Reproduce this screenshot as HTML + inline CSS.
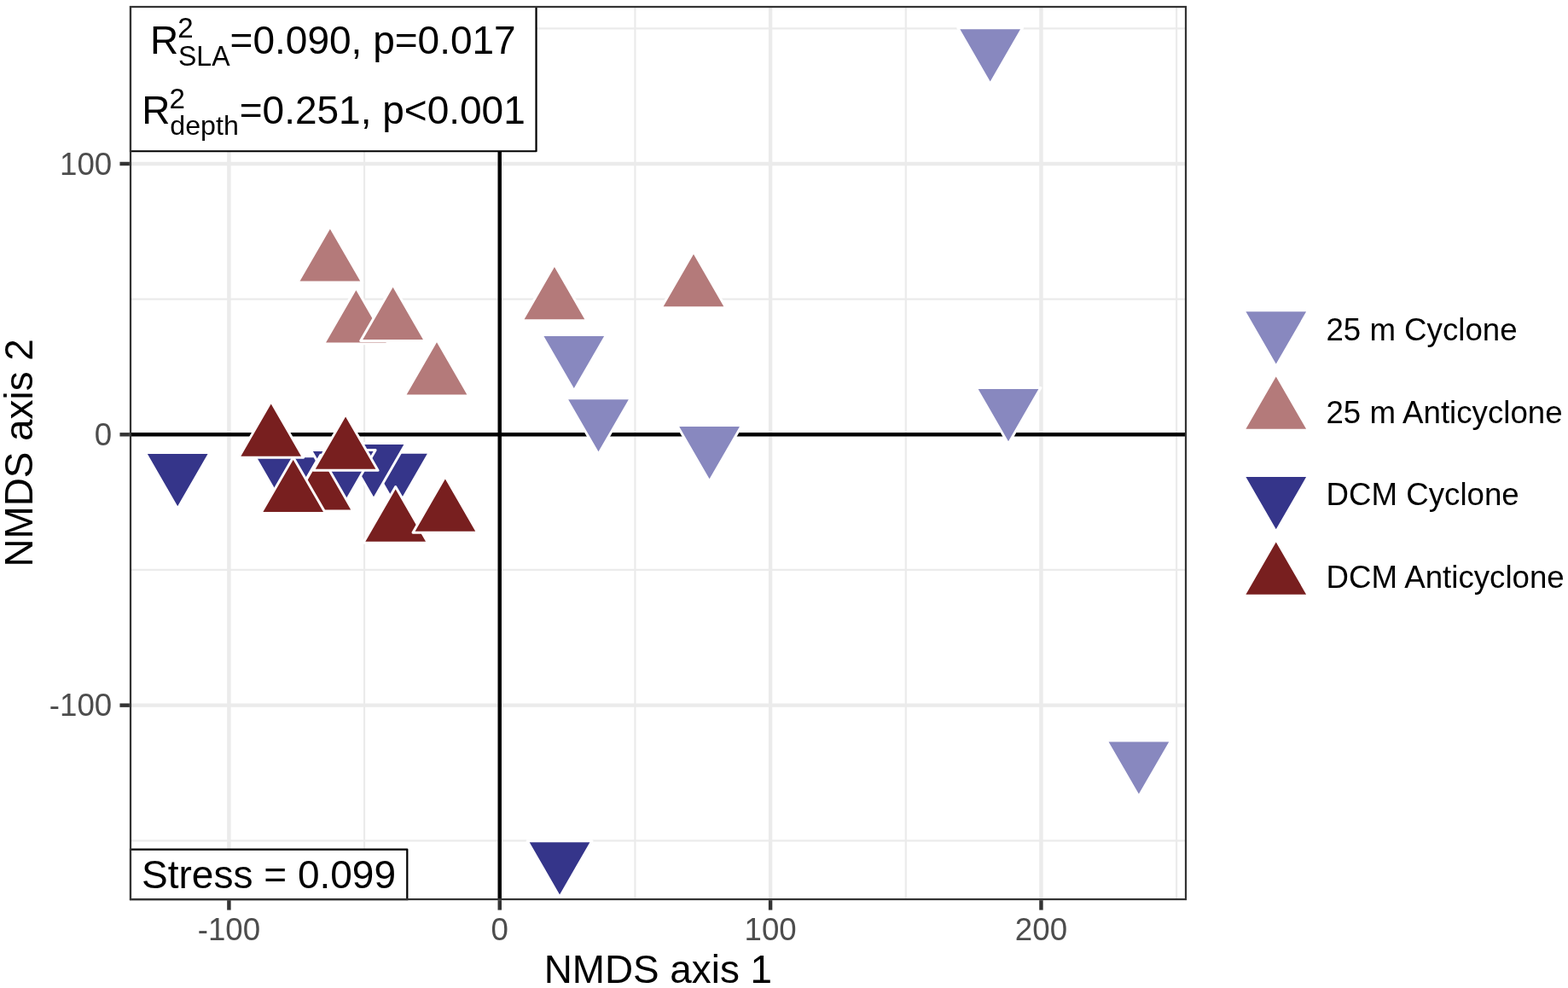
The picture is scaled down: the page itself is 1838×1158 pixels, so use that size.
<!DOCTYPE html>
<html lang="en"><head><meta charset="utf-8"><title>NMDS ordination</title>
<style>html,body{margin:0;padding:0;background:#fff;}body{width:1838px;height:1158px;overflow:hidden;}svg{display:block;}text{font-family:"Liberation Sans",sans-serif;}</style></head><body>
<svg width="1838" height="1158" viewBox="0 0 1838 1158" role="img" aria-label="NMDS ordination scatter plot">
<rect x="0" y="0" width="1838" height="1158" fill="#ffffff"/>
<defs><clipPath id="pc"><rect x="151.90" y="6.90" width="1239.20" height="1048.25"/></clipPath></defs>
<g clip-path="url(#pc)">
<g stroke="#EBEBEB" stroke-width="2.223" fill="none">
<line x1="427.07" y1="6.90" x2="427.07" y2="1055.15"/>
<line x1="744.42" y1="6.90" x2="744.42" y2="1055.15"/>
<line x1="1061.78" y1="6.90" x2="1061.78" y2="1055.15"/>
<line x1="1379.12" y1="6.90" x2="1379.12" y2="1055.15"/>
<line x1="151.90" y1="33.27" x2="1391.10" y2="33.27"/>
<line x1="151.90" y1="350.62" x2="1391.10" y2="350.62"/>
<line x1="151.90" y1="667.98" x2="1391.10" y2="667.98"/>
<line x1="151.90" y1="985.33" x2="1391.10" y2="985.33"/>
</g>
<g stroke="#EBEBEB" stroke-width="4.446" fill="none">
<line x1="268.40" y1="6.90" x2="268.40" y2="1055.15"/>
<line x1="585.75" y1="6.90" x2="585.75" y2="1055.15"/>
<line x1="903.10" y1="6.90" x2="903.10" y2="1055.15"/>
<line x1="1220.45" y1="6.90" x2="1220.45" y2="1055.15"/>
<line x1="151.90" y1="191.95" x2="1391.10" y2="191.95"/>
<line x1="151.90" y1="509.30" x2="1391.10" y2="509.30"/>
<line x1="151.90" y1="826.65" x2="1391.10" y2="826.65"/>
</g>
<g stroke="#000000" stroke-width="4.446" fill="none">
<line x1="151.90" y1="509.30" x2="1391.10" y2="509.30"/>
<line x1="585.75" y1="6.90" x2="585.75" y2="1055.15"/>
</g>
<g stroke="#ffffff" stroke-width="2.95" stroke-linejoin="round">
<polygon points="465.50,595.98 503.41,530.31 427.59,530.31" fill="#35358A"/>
<polygon points="438.00,585.18 475.91,519.51 400.09,519.51" fill="#35358A"/>
<polygon points="336.50,600.38 374.41,534.71 298.59,534.71" fill="#35358A"/>
<polygon points="402.25,593.18 440.16,527.51 364.34,527.51" fill="#35358A"/>
<polygon points="208.20,596.28 246.11,530.61 170.29,530.61" fill="#35358A"/>
<polygon points="656.05,1051.38 693.96,985.71 618.14,985.71" fill="#35358A"/>
<polygon points="1160.70,98.48 1198.61,32.81 1122.79,32.81" fill="#8888BF"/>
<polygon points="672.80,458.08 710.71,392.41 634.89,392.41" fill="#8888BF"/>
<polygon points="701.50,532.33 739.41,466.66 663.59,466.66" fill="#8888BF"/>
<polygon points="831.60,564.28 869.51,498.61 793.69,498.61" fill="#8888BF"/>
<polygon points="1182.00,520.18 1219.91,454.51 1144.09,454.51" fill="#8888BF"/>
<polygon points="1334.90,933.58 1372.81,867.91 1296.99,867.91" fill="#8888BF"/>
<polygon points="386.90,265.42 424.81,331.09 348.99,331.09" fill="#B47A7A"/>
<polygon points="417.40,337.22 455.31,402.89 379.49,402.89" fill="#B47A7A"/>
<polygon points="460.60,333.82 498.51,399.49 422.69,399.49" fill="#B47A7A"/>
<polygon points="512.00,398.32 549.91,463.99 474.09,463.99" fill="#B47A7A"/>
<polygon points="649.95,310.02 687.86,375.69 612.04,375.69" fill="#B47A7A"/>
<polygon points="813.00,295.02 850.91,360.69 775.09,360.69" fill="#B47A7A"/>
<polygon points="375.85,533.32 413.76,598.99 337.94,598.99" fill="#781F1F"/>
<polygon points="343.70,535.92 381.61,601.59 305.79,601.59" fill="#781F1F"/>
<polygon points="317.70,470.52 355.61,536.19 279.79,536.19" fill="#781F1F"/>
<polygon points="405.10,485.62 443.01,551.29 367.19,551.29" fill="#781F1F"/>
<polygon points="463.70,570.52 501.61,636.19 425.79,636.19" fill="#781F1F"/>
<polygon points="521.90,558.52 559.81,624.19 483.99,624.19" fill="#781F1F"/>
</g>
<rect x="151.90" y="6.90" width="476.65" height="170.35" fill="#ffffff" stroke="#000000" stroke-width="2.223" stroke-linejoin="round"/>
<g font-size="46px" fill="#000000">
<text y="62.85"><tspan x="176.1">R</tspan><tspan x="208.25" y="43.75" font-size="33.6px" lengthAdjust="spacingAndGlyphs" textLength="18.41">2</tspan><tspan x="209" y="76.9" font-size="33.6px" lengthAdjust="spacingAndGlyphs" textLength="60.52">SLA</tspan><tspan x="269.6" y="62.85">=0.090, p=0.017</tspan></text>
<text y="144.85"><tspan x="166.15">R</tspan><tspan x="198.55" y="126.95" font-size="33.6px" lengthAdjust="spacingAndGlyphs" textLength="18.41">2</tspan><tspan x="199.3" y="157.6" font-size="32.2px">depth</tspan><tspan x="280.7" y="144.85">=0.251, p&lt;0.001</tspan></text>
</g>
<rect x="151.90" y="995.60" width="325.40" height="59.55" fill="#ffffff" stroke="#000000" stroke-width="2.223" stroke-linejoin="round"/>
<text x="166.1" y="1040.8" font-size="46px" fill="#000000">Stress = 0.099</text>
</g>
<rect x="153.01" y="8.01" width="1236.98" height="1046.03" fill="none" stroke="#333333" stroke-width="2.223"/>
<g stroke="#333333" stroke-width="4.446" fill="none">
<line x1="268.40" y1="1055.15" x2="268.40" y2="1066.61"/>
<line x1="585.75" y1="1055.15" x2="585.75" y2="1066.61"/>
<line x1="903.10" y1="1055.15" x2="903.10" y2="1066.61"/>
<line x1="1220.45" y1="1055.15" x2="1220.45" y2="1066.61"/>
<line x1="140.44" y1="191.95" x2="151.90" y2="191.95"/>
<line x1="140.44" y1="509.30" x2="151.90" y2="509.30"/>
<line x1="140.44" y1="826.65" x2="151.90" y2="826.65"/>
</g>
<g font-size="36.67px" fill="#4D4D4D">
<text x="268.40" y="1101.7" text-anchor="middle">-100</text>
<text x="585.75" y="1101.7" text-anchor="middle">0</text>
<text x="903.10" y="1101.7" text-anchor="middle">100</text>
<text x="1220.45" y="1101.7" text-anchor="middle">200</text>
<text x="131.2" y="204.70" text-anchor="end">100</text>
<text x="131.2" y="522.05" text-anchor="end">0</text>
<text x="131.2" y="839.40" text-anchor="end">-100</text>
</g>
<text x="771.4" y="1152.0" font-size="45.83px" text-anchor="middle" fill="#000000">NMDS axis 1</text>
<text transform="translate(38.3,530.9) rotate(-90)" font-size="45.83px" text-anchor="middle" fill="#000000">NMDS axis 2</text>
<g stroke="#ffffff" stroke-width="2.95" stroke-linejoin="round">
<polygon points="1495.75,429.48 1533.66,363.81 1457.84,363.81" fill="#8888BF"/>
<polygon points="1495.75,438.62 1533.66,504.29 1457.84,504.29" fill="#B47A7A"/>
<polygon points="1495.75,623.28 1533.66,557.61 1457.84,557.61" fill="#35358A"/>
<polygon points="1495.75,632.52 1533.66,698.19 1457.84,698.19" fill="#781F1F"/>
</g>
<g font-size="36.67px" fill="#000000">
<text x="1554.45" y="398.75">25 m Cyclone</text>
<text x="1554.45" y="495.75">25 m Anticyclone</text>
<text x="1554.60" y="591.75">DCM Cyclone</text>
<text x="1554.60" y="688.75">DCM Anticyclone</text>
</g>
</svg></body></html>
